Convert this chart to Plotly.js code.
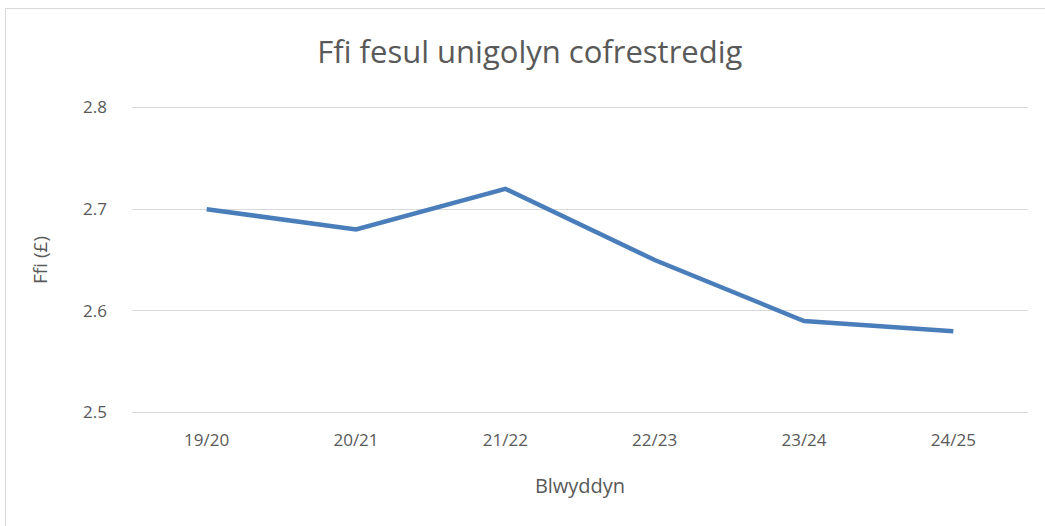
<!DOCTYPE html>
<html>
<head>
<meta charset="utf-8">
<script src="https://cdn.plot.ly/plotly-3.0.1.min.js"></script>
<style>
html,body{margin:0;padding:0;background:#fff;}
#wrap{position:absolute;left:0;top:0;width:1045px;height:526px;}
#frame{position:absolute;left:5px;top:8px;width:1040px;height:518px;border-left:1px solid #d9d9d9;border-top:1px solid #d9d9d9;pointer-events:none;}
#chart{position:absolute;left:0;top:0;width:1045px;height:526px;}
</style>
</head>
<body>
<div id="wrap">
<div id="chart"></div>
<div id="frame"></div>
</div>
<script>
const years = ["19/20","20/21","21/22","22/23","23/24","24/25"];
const fees = [2.70, 2.68, 2.72, 2.65, 2.59, 2.58];
const yTicks = [2.5, 2.6, 2.7, 2.8];
const yTickLabels = ["2.5","2.6","2.7","2.8"];

const fontFam = "Open Sans, Noto Sans, sans-serif";
const trace = {
  x: years, y: fees, type: "scatter", mode: "lines",
  line: {color: "#4a7ebb", width: 4.5},
  hoverinfo: "skip"
};
const layout = {
  width: 1045, height: 526,
  margin: {l: 132, r: 17, t: 106, b: 112},
  paper_bgcolor: "#ffffff", plot_bgcolor: "#ffffff",
  showlegend: false,
  title: {text: "Ffi fesul unigolyn cofrestredig", font: {family: fontFam, size: 31, color: "#595959"}, x: 0.507, xanchor: "center", y: 0.9, yanchor: "middle"},
  xaxis: {
    type: "category", range: [-0.5, 5.5], showgrid: false, zeroline: false, showline: false, ticks: "",
    ticklabelstandoff: 14,
    tickfont: {family: fontFam, size: 17, color: "#595959"},
    title: {text: "Blwyddyn", font: {family: fontFam, size: 20, color: "#595959"}, standoff: 28}
  },
  yaxis: {
    range: [2.4985, 2.8015], tickvals: yTicks, ticktext: yTickLabels,
    showgrid: true, gridcolor: "#d9d9d9", gridwidth: 1, zeroline: false, showline: false, ticks: "",
    ticklabelstandoff: 24,
    tickfont: {family: fontFam, size: 17, color: "#595959"},
    title: {text: "Ffi (£)", font: {family: fontFam, size: 19, color: "#595959"}, standoff: 30}
  }
};
Plotly.newPlot("chart", [trace], layout, {staticPlot: true, displayModeBar: false});
</script>
</body>
</html>
